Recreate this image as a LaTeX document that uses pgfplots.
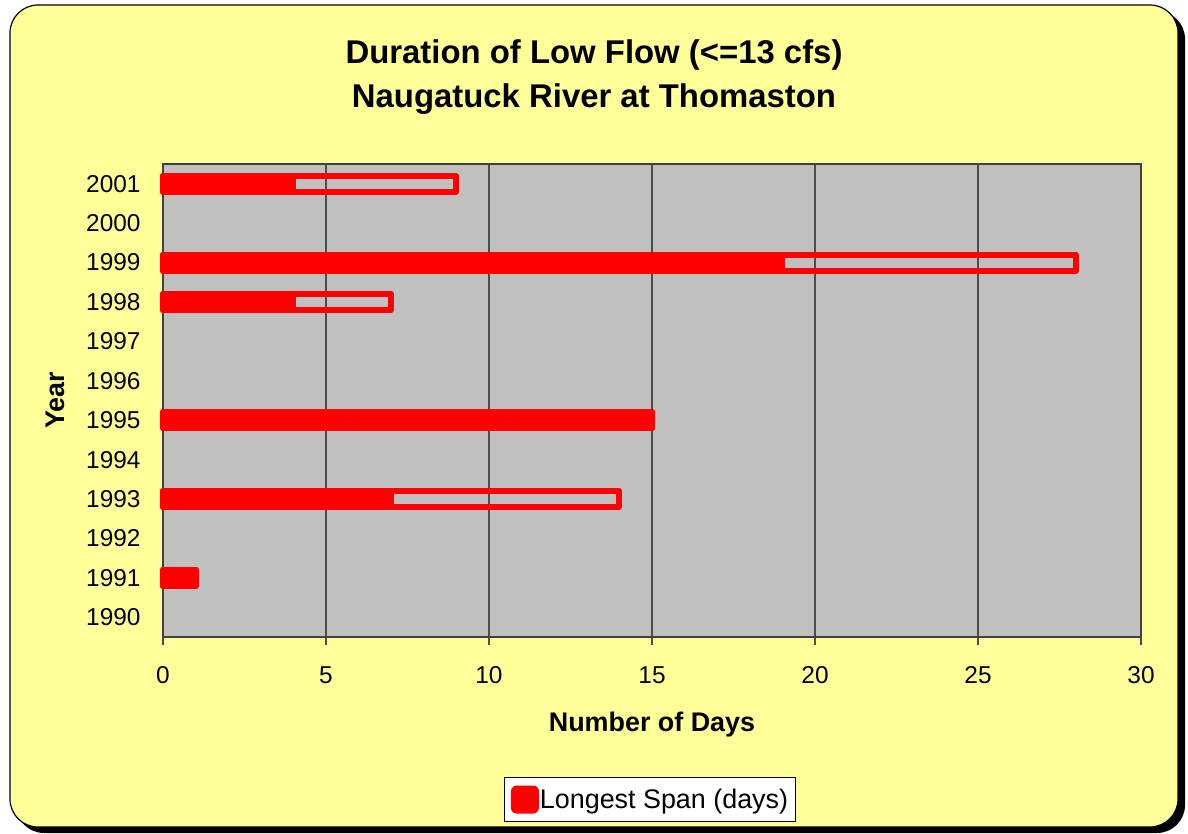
\documentclass[border=0pt]{standalone}
\usepackage{pgfplots}
\pgfplotsset{compat=1.18}
\usepackage{fontspec}
\setmainfont{Liberation Sans}
\definecolor{chartbg}{HTML}{FFFF99}
\definecolor{plotbg}{HTML}{C0C0C0}
\definecolor{barred}{HTML}{FF0000}

\begin{document}
\begin{tikzpicture}
	\useasboundingbox (0,0) rectangle (1188bp,834bp);
	% chart area with shadow
	\fill[black, rounded corners=28bp] (16bp,1bp) rectangle (1185bp,823bp);
	\filldraw[fill=chartbg, draw=black, line width=1.2bp, rounded corners=28bp]
		(10bp,7bp) rectangle (1178bp,829bp);
	\begin{axis}[
		at={(163bp,197bp)}, anchor=south west,
		scale only axis,
		width=978bp, height=473bp,
		xmin=0, xmax=30,
		ymin=1989.5, ymax=2001.5,
		xtick={0,5,...,30},
		ytick={1990,...,2001},
		/pgf/number format/.cd, 1000 sep={}, assume math mode=true,
		/pgfplots/.cd,
		tick label style={font=\fontsize{24.5}{28}\selectfont},
		xtick pos=bottom,
		xtick align=outside,
		major tick length=8bp,
		xtick style={black!70, line width=1.2bp},
		ytick style={draw=none},
		yticklabel style={xshift=-19bp},
		xticklabel style={yshift=-18bp},
		xmajorgrids,
		grid style={black!70, line width=1.2bp},
		axis line style={black!75, line width=1.5bp},
		axis background/.style={fill=plotbg},
		clip=false,
		title={Duration of Low Flow (<=13 cfs)\\Naugatuck River at Thomaston},
		title style={at={(0.4407,1.172)}, anchor=center, align=center,
			font=\fontsize{33}{44}\selectfont\bfseries},
		xlabel={Number of Days},
		xlabel style={at={(0.5,-0.186)}, anchor=center,
			font=\fontsize{27}{30}\selectfont\bfseries},
		ylabel={Year},
		ylabel style={at={(-0.1104,0.5)}, anchor=center, rotate=0,
			font=\fontsize{27}{30}\selectfont\bfseries},
		legend style={at={(0.498,-0.3436)}, anchor=center,
			draw=black, fill=white, line width=1bp,
			inner xsep=6bp, inner ysep=8bp,
			font=\fontsize{27}{30}\selectfont,
			nodes={inner sep=1bp}},
		legend image code/.code={
			\fill[barred, rounded corners=2.5bp] (0bp,-11bp) rectangle (22bp,11bp);},
		]
		% total days below threshold (outlined)
		\addplot[xbar, bar width=16bp, bar shift=0pt, draw=barred, fill=none,
			line width=6bp, line join=round, forget plot] coordinates {
			(9,2001) (28,1999) (7,1998) (15,1995) (14,1993) (1,1991)
		};
		% longest continuous span
		\addplot[xbar, bar width=16bp, bar shift=0pt, draw=barred, fill=barred,
			line width=6bp, line join=round] coordinates {
			(4,2001) (19,1999) (4,1998) (15,1995) (7,1993) (1,1991)
		};
		\addlegendentry{Longest Span (days)}
	\end{axis}
\end{tikzpicture}
\end{document}
